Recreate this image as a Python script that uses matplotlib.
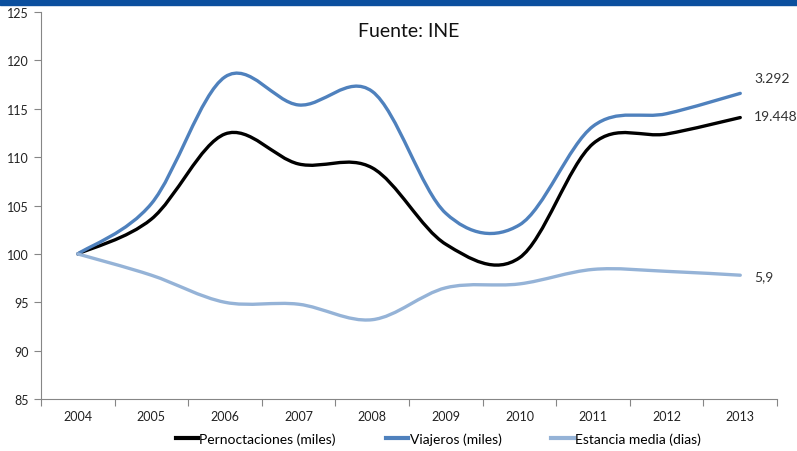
import matplotlib
matplotlib.use("Agg")
import matplotlib.pyplot as plt
from matplotlib.path import Path
from matplotlib.patches import PathPatch, Rectangle
from matplotlib.lines import Line2D

plt.rcParams['font.family'] = ['Lato', 'DejaVu Sans']

years = ['2004', '2005', '2006', '2007', '2008', '2009', '2010', '2011', '2012', '2013']
pernoctaciones = [100, 103.6, 112.4, 109.3, 108.9, 101.0, 99.6, 111.4, 112.4, 114.1]
viajeros = [100, 105.2, 118.3, 115.4, 116.8, 104.2, 103.0, 113.2, 114.5, 116.6]
estancia = [100, 97.8, 95.0, 94.8, 93.2, 96.5, 96.9, 98.4, 98.2, 97.8]

series_names = ['Pernoctaciones (miles)', 'Viajeros (miles)', 'Estancia media (dias)']
series_colors = ['#000000', '#4f81bd', '#95b3d7']
end_labels = ['19.448', '3.292', '5,9']
end_offsets = [(10, 1), (10, 11), (10, -1)]


def smooth_path(ys):
    # Excel-style smoothed line: cubic Bezier through every point
    xs = list(range(len(ys)))
    pts = list(zip(xs, ys))
    verts = [pts[0]]
    codes = [Path.MOVETO]
    n = len(pts)
    for i in range(n - 1):
        p0 = pts[max(i - 1, 0)]
        p1 = pts[i]
        p2 = pts[i + 1]
        p3 = pts[min(i + 2, n - 1)]
        c1 = (p1[0] + (p2[0] - p0[0]) / 6, p1[1] + (p2[1] - p0[1]) / 6)
        c2 = (p2[0] - (p3[0] - p1[0]) / 6, p2[1] - (p3[1] - p1[1]) / 6)
        verts += [c1, c2, p2]
        codes += [Path.CURVE4] * 3
    return Path(verts, codes)


fig = plt.figure(figsize=(7.97, 4.52), dpi=100)
fig.patches.append(Rectangle((0, 0.986), 1, 0.014, transform=fig.transFigure,
                             color='#0b4f9e', zorder=5))
ax = fig.add_axes([0.0514, 0.115, 0.9236, 0.856])

for vals, col in zip([pernoctaciones, viajeros, estancia], series_colors):
    ax.add_patch(PathPatch(smooth_path(vals), fill=False, edgecolor=col,
                           lw=2.4, capstyle='round', joinstyle='round'))

for vals, lab, off in zip([pernoctaciones, viajeros, estancia], end_labels, end_offsets):
    ax.annotate(lab, (len(vals) - 1, vals[-1]), xytext=off, textcoords='offset points',
                ha='left', va='center', fontsize=10, color='#333333')

ax.set_xlim(-0.5, len(years) - 0.5)
ax.set_ylim(85, 125)
ax.set_yticks(range(85, 126, 5))
ax.set_xticks([i - 0.5 for i in range(len(years) + 1)])
ax.set_xticklabels([])
ax.set_xticks(range(len(years)), minor=True)
ax.set_xticklabels(years, minor=True)
ax.tick_params(axis='x', which='major', length=5, color='#868686', direction='out')
ax.tick_params(axis='x', which='minor', length=0, pad=8, labelsize=9, labelcolor='#222222')
ax.tick_params(axis='y', length=5, color='#868686', labelsize=9, labelcolor='#222222')

for s in ['top', 'right']:
    ax.spines[s].set_visible(False)
for s in ['left', 'bottom']:
    ax.spines[s].set_color('#868686')

ax.text(0.5, 0.975, 'Fuente: INE', transform=ax.transAxes, ha='center', va='top',
        fontsize=14, color='#111111')

handles = [Line2D([], [], color=c, lw=3) for c in series_colors]
fig.legend(handles, series_names, loc='lower center', bbox_to_anchor=(0.55, -0.014),
           ncol=3, frameon=False, fontsize=10, handlelength=1.6, handletextpad=0.1,
           columnspacing=3.6)

fig.savefig('out.png', dpi=100)
